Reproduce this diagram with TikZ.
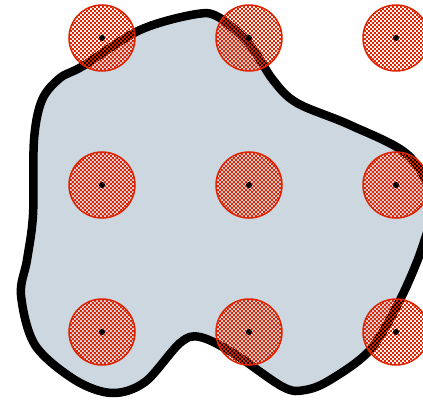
\documentclass[tikz,border=0pt]{standalone}
\usetikzlibrary{patterns}
\definecolor{blobfill}{RGB}{205,215,224}
\definecolor{ringred}{RGB}{222,36,0}
\pgfdeclarepatternformonly{finecheck}{\pgfpointorigin}{\pgfqpoint{4.4pt}{4.4pt}}{\pgfqpoint{4.4pt}{4.4pt}}{%
  \pgfpathrectangle{\pgfpointorigin}{\pgfqpoint{2.2pt}{2.2pt}}%
  \pgfpathrectangle{\pgfqpoint{2.2pt}{2.2pt}}{\pgfqpoint{2.2pt}{2.2pt}}%
  \pgfusepath{fill}}
\tikzset{
  blob/.style={line width=8.5pt, draw=black, fill=blobfill, line join=round},
  spot/.style={circle, minimum size=66pt, inner sep=0pt, draw=ringred, line width=1.5pt, pattern=finecheck, pattern color=ringred},
  pin/.style={circle, fill=black, minimum size=6pt, inner sep=0pt}
}
\begin{document}
\begin{tikzpicture}[x=1pt,y=-1pt]
\useasboundingbox (0,0) rectangle (423,401);
\clip (0,0) rectangle (423,401);
\draw[blob] plot[smooth cycle, tension=0.55] coordinates {
 (60,78) (83,66) (140,30) (197,14) (220,18) (250,45) (273,80) (297,103)
 (350,125) (408,155) (432,200) (423,245) (400,300) (370,350) (330,380)
 (305,390) (283,387) (233,353) (200,337) (180,343) (145,382) (112,393)
 (75,380) (35,345) (21,295) (27,260) (33,215) (34,140) (42,100)};
\foreach \x [count=\i] in {102,249,396}{
  \foreach \y [count=\j] in {38,185,332}{
    \node[spot] (s-\i-\j) at (\x,\y) {};
    \node[pin] (p-\i-\j) at (s-\i-\j.center) {};
  }
}
\end{tikzpicture}
\end{document}
